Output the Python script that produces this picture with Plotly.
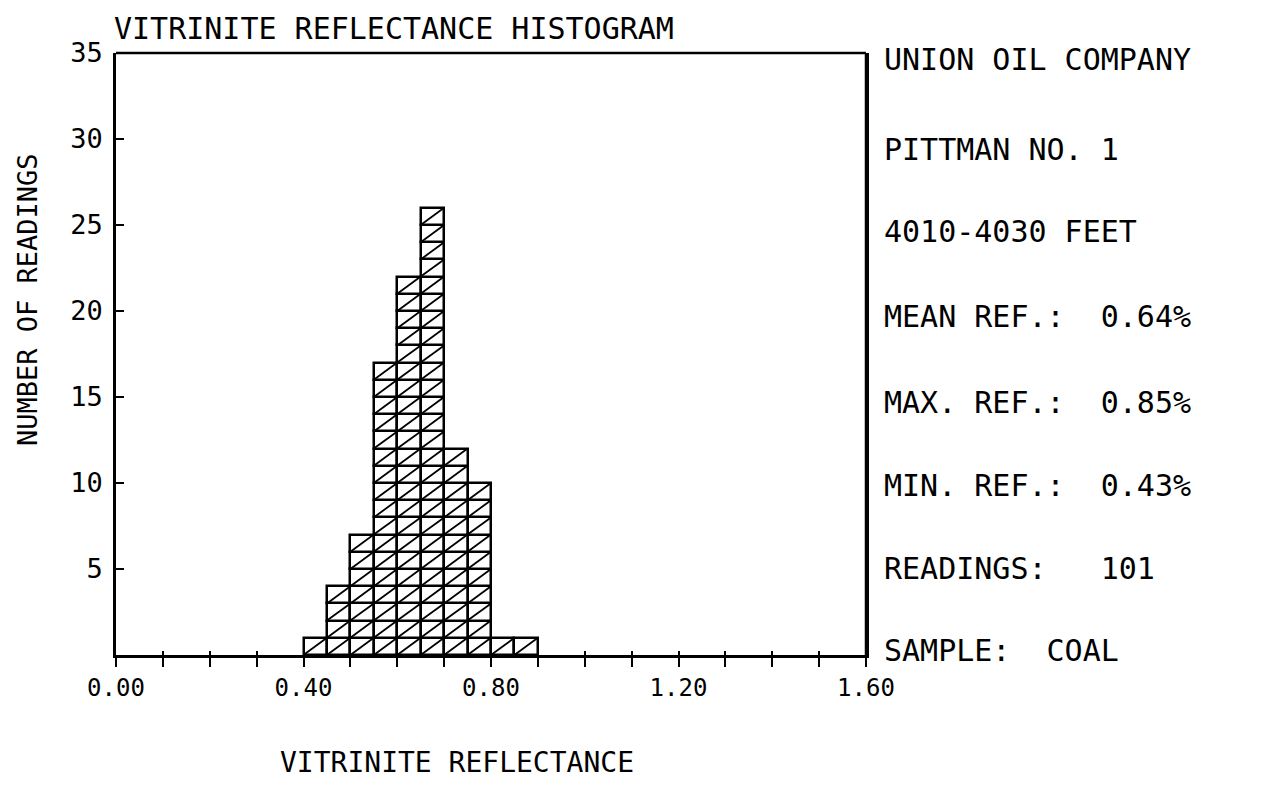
import plotly.graph_objects as go

# histogram data: lower edge of each 0.05 bin and the count of readings in it
bin_edges = [0.40, 0.45, 0.50, 0.55, 0.60, 0.65, 0.70, 0.75, 0.80, 0.85]
counts = [1, 4, 7, 17, 22, 26, 12, 10, 1, 1]
bin_width = 0.05

title_text = "VITRINITE REFLECTANCE HISTOGRAM"
x_title = "VITRINITE REFLECTANCE"
y_title = "NUMBER OF READINGS"
x_ticks = [0.0, 0.4, 0.8, 1.2, 1.6]
y_ticks = [5, 10, 15, 20, 25, 30, 35]
info_lines = [
    "UNION OIL COMPANY",
    "PITTMAN NO. 1",
    "4010-4030 FEET",
    "MEAN REF.:  0.64%",
    "MAX. REF.:  0.85%",
    "MIN. REF.:  0.43%",
    "READINGS:   101",
    "SAMPLE:  COAL",
]

FONT = "DejaVu Sans Mono"
INK = "black"

# one cell per reading, stacked up from the axis
cell_x, cell_base = [], []
diag_x, diag_y = [], []
for edge, n in zip(bin_edges, counts):
    for k in range(n):
        cell_x.append(edge + bin_width / 2)
        cell_base.append(k)
        diag_x += [edge, edge + bin_width, None]
        diag_y += [k, k + 1, None]

fig = go.Figure()
fig.add_trace(go.Bar(
    x=cell_x, y=[1] * len(cell_x), base=cell_base, width=bin_width,
    marker=dict(color="white", line=dict(color=INK, width=2.5)),
    showlegend=False, hoverinfo="skip"
))
fig.add_trace(go.Scatter(
    x=diag_x, y=diag_y, mode="lines", xaxis="x2",
    line=dict(color=INK, width=1.8),
    showlegend=False, hoverinfo="skip"
))

fig.update_layout(
    width=1255, height=777,
    margin=dict(l=108, r=397, t=45, b=130),
    paper_bgcolor="white", plot_bgcolor="white",
    font=dict(family=FONT, color=INK, size=24),
    xaxis=dict(
        range=[0, 1.6], tickvals=x_ticks, tickformat=".2f",
        ticks="outside", ticklen=9, tickwidth=2, tickcolor=INK,
        minor=dict(dtick=0.1, tick0=0, ticks="outside", ticklen=9, tickwidth=2, tickcolor=INK),
        showline=True, linecolor=INK, linewidth=3, mirror=False,
        showgrid=False, zeroline=False, fixedrange=True, automargin=False,
        tickfont=dict(size=24),
    ),
    xaxis2=dict(
        range=[0, 1.6], overlaying="x", anchor="y", side="bottom",
        dtick=0.1, tick0=0, ticks="inside", ticklen=4, tickwidth=2, tickcolor=INK,
        showticklabels=False, showgrid=False, zeroline=False, showline=False,
        fixedrange=True, automargin=False,
    ),
    yaxis=dict(
        range=[0, 35], tickvals=y_ticks,
        ticks="inside", ticklen=8, tickwidth=2, tickcolor=INK,
        showline=True, linecolor=INK, linewidth=2.5, mirror=True,
        showgrid=False, zeroline=False, fixedrange=True, automargin=False,
        tickfont=dict(size=27), ticklabelstandoff=5,
    ),
    bargap=0,
    barmode="overlay",
    shapes=[
        # top and right frame of the plot box
        dict(type="line", xref="paper", yref="paper", x0=0, x1=1, y0=1, y1=1,
             line=dict(color=INK, width=2.5)),
        dict(type="line", xref="paper", yref="paper", x0=1, x1=1, y0=0, y1=1,
             line=dict(color=INK, width=2.5)),
    ],
)

annotations = [
    dict(text=title_text, xref="paper", yref="paper", x=-0.006, y=1.040,
         xanchor="left", yanchor="middle", showarrow=False, font=dict(size=30)),
    dict(text=x_title, xref="paper", yref="paper", x=0.455, y=-0.179,
         xanchor="center", yanchor="middle", showarrow=False, font=dict(size=28)),
    dict(text=y_title, xref="paper", yref="paper", x=-0.117, y=0.59,
         xanchor="center", yanchor="middle", textangle=-90, showarrow=False,
         font=dict(size=27)),
]
info_y = [0.990, 0.8405, 0.704, 0.563, 0.420, 0.281, 0.143, 0.007]
for line, yy in zip(info_lines, info_y):
    annotations.append(dict(
        text=line.replace(" ", "\u00a0"), xref="paper", yref="paper",
        x=1.021, y=yy, xanchor="left", yanchor="middle", showarrow=False,
        font=dict(size=30)
    ))
fig.update_layout(annotations=annotations)

fig.write_html("out.html")
